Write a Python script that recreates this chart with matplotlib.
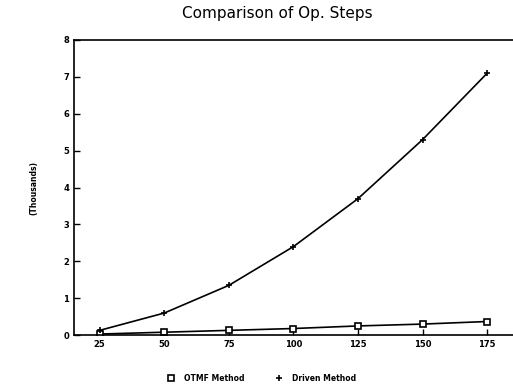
import numpy as np
import matplotlib.pyplot as plt
from matplotlib.lines import Line2D

# data (values in thousands)
sizes = [25, 50, 75, 100, 125, 150, 175]
otmf_method = [0.03, 0.08, 0.13, 0.18, 0.25, 0.30, 0.37]
driven_method = [0.13, 0.60, 1.35, 2.40, 3.70, 5.30, 7.10]
y_ticks = [0, 1, 2, 3, 4, 5, 6, 7, 8]
series_names = ['OTMF Method', 'Driven Method']

fig = plt.figure(figsize=(5.13, 3.92), dpi=100)
ax = fig.add_axes([0.144, 0.145, 0.856, 0.753])

ax.plot(sizes, otmf_method, color='black', lw=1.2, marker='s', ms=5,
        mfc='white', mec='black', mew=1.2)
ax.plot(sizes, driven_method, color='black', lw=1.2, marker='+', ms=5,
        mew=1.2)

ax.set_xlim(15, 185)
ax.set_ylim(0, 8)
ax.set_xticks(sizes)
ax.set_yticks(y_ticks)
ax.tick_params(direction='in', length=4, width=1, labelsize=6)
for lab in ax.get_xticklabels() + ax.get_yticklabels():
    lab.set_fontweight('bold')
ax.spines['right'].set_visible(False)
for s in ['left', 'bottom', 'top']:
    ax.spines[s].set_linewidth(1.2)

ax.set_ylabel('(Thousands)', fontsize=5.5, fontweight='bold', labelpad=18)
fig.text(0.54, 0.965, 'Comparison of Op. Steps', ha='center', va='center',
         fontsize=11, family='DejaVu Sans')

# legend shows markers only
handles = [Line2D([], [], ls='none', marker='s', ms=4, mfc='white', mec='black', mew=1.2, color='black'),
           Line2D([], [], ls='none', marker='+', ms=4, mew=1.2, color='black')]
fig.legend(handles, series_names, loc='center', bbox_to_anchor=(0.51, 0.035), ncol=2,
           frameon=False, prop={'size': 5.5, 'weight': 'bold'}, handlelength=1,
           handletextpad=1.2, columnspacing=4)

fig.savefig('out.png', dpi=100)
